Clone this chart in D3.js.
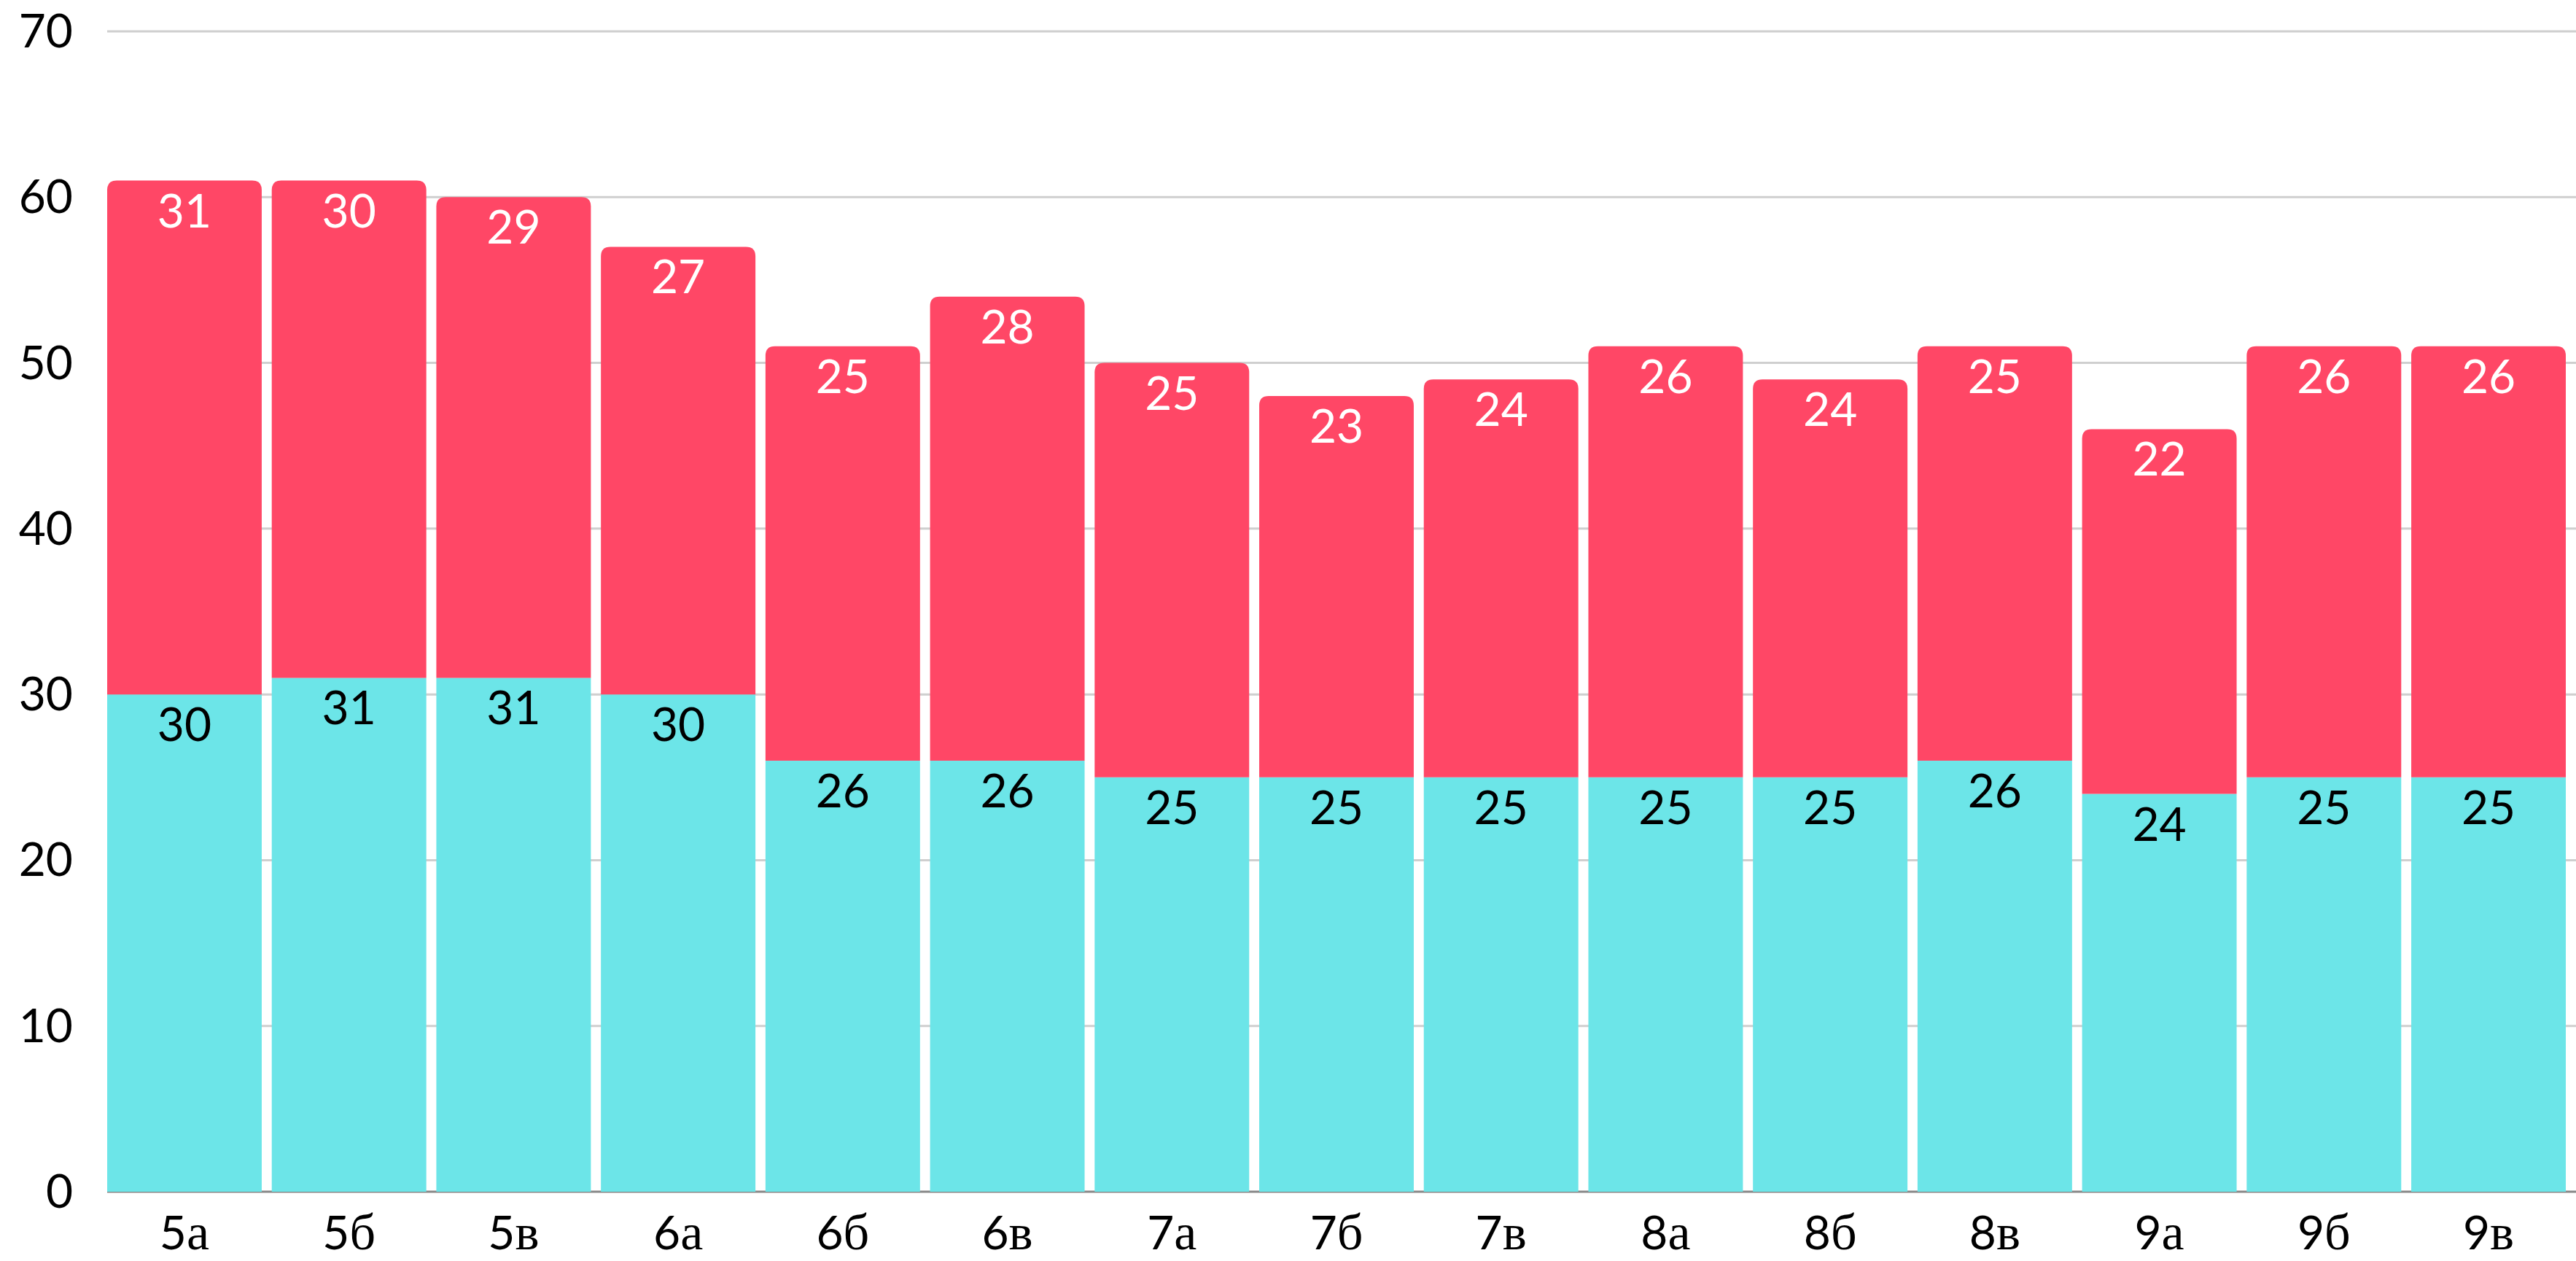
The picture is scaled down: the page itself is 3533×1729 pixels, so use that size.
<!DOCTYPE html>
<html>
<head>
<meta charset="utf-8">
<script src="https://cdn.jsdelivr.net/npm/d3@7"></script>
<style>
  body { margin: 0; background: #fff; }
  svg text { font-family: Lato, "DejaVu Sans", sans-serif; }
</style>
</head>
<body>
<script>
// classes
const classes = ["5а", "5б", "5в", "6а", "6б", "6в", "7а", "7б", "7в", "8а", "8б", "8в", "9а", "9б", "9в"];
// bottom (cyan) and top (red) series
const lowerValues = [30, 31, 31, 30, 26, 26, 25, 25, 25, 25, 25, 26, 24, 25, 25];
const upperValues = [31, 30, 29, 27, 25, 28, 25, 23, 24, 26, 24, 25, 22, 26, 26];
const yTicks = [0, 10, 20, 30, 40, 50, 60, 70];

const width = 3533, height = 1729;
const cyan = "#6ce5e8", red = "#ff4766";

const svg = d3.select("body").append("svg")
    .attr("width", width).attr("height", height);

const x = d3.scaleBand().domain(classes).range([147, 3519]).paddingInner(0.061).paddingOuter(0);
const y = d3.scaleLinear().domain([0, 70]).range([1634, 43]);

// gridlines
svg.append("g").selectAll("line")
    .data(yTicks)
    .join("line")
    .attr("x1", 147).attr("x2", width)
    .attr("y1", d => y(d)).attr("y2", d => y(d))
    .attr("stroke", d => d === 0 ? "#888" : "#cfcfcf")
    .attr("stroke-width", 3);

// y labels
svg.append("g").selectAll("text")
    .data(yTicks)
    .join("text")
    .attr("x", 100)
    .attr("y", d => y(d) + 22)
    .attr("text-anchor", "end")
    .attr("font-size", 64)
    .attr("fill", "#000")
    .text(d => d);

const data = classes.map((c, i) => ({ c, lo: lowerValues[i], hi: upperValues[i] }));
const r = 13;

// top segment with rounded top corners
function topPath(d) {
  const x0 = x(d.c), x1 = x0 + x.bandwidth();
  const yt = y(d.lo + d.hi), yb = y(d.lo);
  return `M${x0},${yb}V${yt + r}Q${x0},${yt} ${x0 + r},${yt}H${x1 - r}Q${x1},${yt} ${x1},${yt + r}V${yb}Z`;
}

const bars = svg.append("g");
bars.selectAll("rect.lo")
    .data(data)
    .join("rect")
    .attr("class", "lo")
    .attr("x", d => x(d.c))
    .attr("width", x.bandwidth())
    .attr("y", d => y(d.lo))
    .attr("height", d => y(0) - y(d.lo))
    .attr("fill", cyan);

bars.selectAll("path.hi")
    .data(data)
    .join("path")
    .attr("class", "hi")
    .attr("d", topPath)
    .attr("fill", red);

// value labels
const labels = svg.append("g").attr("text-anchor", "middle").attr("font-size", 64);
labels.selectAll("text.lo")
    .data(data)
    .join("text")
    .attr("class", "lo")
    .attr("x", d => x(d.c) + x.bandwidth() / 2)
    .attr("y", d => y(d.lo) + 64)
    .attr("fill", "#000")
    .text(d => d.lo);

labels.selectAll("text.hi")
    .data(data)
    .join("text")
    .attr("class", "hi")
    .attr("x", d => x(d.c) + x.bandwidth() / 2)
    .attr("y", d => y(d.lo + d.hi) + 64)
    .attr("fill", "#fff")
    .text(d => d.hi);

// category labels: digit in sans, letter in serif
const cat = svg.append("g").selectAll("text")
    .data(classes)
    .join("text")
    .attr("x", d => x(d) + x.bandwidth() / 2)
    .attr("y", 1713)
    .attr("text-anchor", "middle")
    .attr("font-size", 64)
    .attr("fill", "#000");
cat.append("tspan").text(d => d.slice(0, 1));
cat.append("tspan").attr("font-family", "Liberation Serif").attr("font-size", 70).text(d => d.slice(1));
</script>
</body>
</html>
